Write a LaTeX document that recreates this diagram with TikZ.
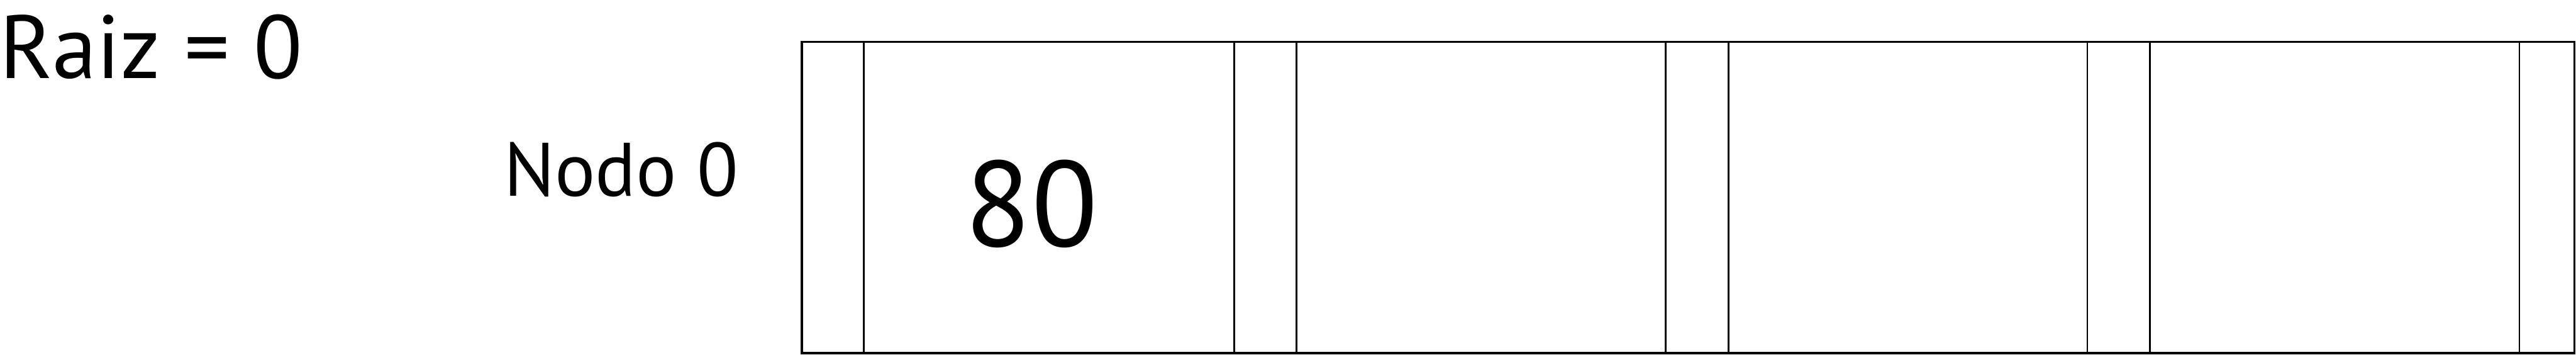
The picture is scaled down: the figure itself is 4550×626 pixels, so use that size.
\documentclass[tikz,border=0pt]{standalone}
\usepackage{fontspec}
\setmainfont{PT Sans}
\begin{document}
\begin{tikzpicture}[x=0.01cm,y=0.01cm,
  outer/.style={draw=black,line width=0.04cm},
  divider/.style={draw=black,line width=0.03cm},
  lbl/.style={inner sep=0pt,anchor=base,text=black}]
\useasboundingbox (0,0) rectangle (4550,626);
% labels
\node[lbl,font=\fontsize{45}{54}\selectfont] (raiz) at (267,488) {Raiz = 0};
\node[lbl,font=\fontsize{38}{46}\selectfont] (nodo) at (1097,280) {Nodo 0};
\node[lbl,font=\fontsize{61}{73}\selectfont] (val) at (1822,191) {80};
% record box
\draw[outer] (1416,3) rectangle (4547,552);
\foreach \xx in {1526,2180,2290,2942,3053,3687,3797,4450}
  \draw[divider] (\xx,3) -- (\xx,552);
\end{tikzpicture}
\end{document}
